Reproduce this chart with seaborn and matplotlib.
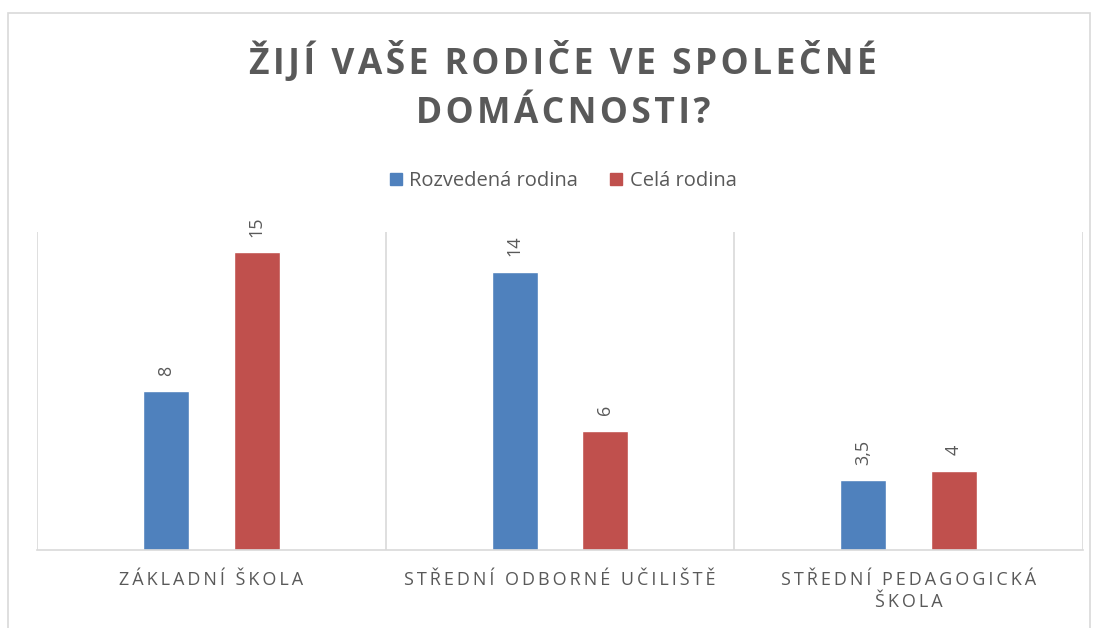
import pandas as pd
import matplotlib.pyplot as plt
import seaborn as sns
from matplotlib.patches import Rectangle

# data
skoly = ["ZÁKLADNÍ ŠKOLA", "STŘEDNÍ ODBORNÉ UČILIŠTĚ", "STŘEDNÍ PEDAGOGICKÁ\nŠKOLA"]
rozvedena = [8, 14, 3.5]
cela = [15, 6, 4]
serie = ["Rozvedená rodina", "Celá rodina"]
barvy = ["#4F81BD", "#C0504D"]

df = pd.DataFrame({
    "skola": skoly * 2,
    "hodnota": rozvedena + cela,
    "rodina": [serie[0]] * 3 + [serie[1]] * 3,
})

sns.set_style("white")
plt.rcParams["font.family"] = ["Open Sans", "DejaVu Sans"]
seda = "#595959"


def rozsirit(text, mezera="\u2009"):
    # letter spacing like the original
    return "\n".join(mezera.join(radek) for radek in text.split("\n"))


fig = plt.figure(figsize=(10.98, 6.28), dpi=100)
ax = fig.add_axes([37 / 1098, 1 - 550 / 628, (1083 - 37) / 1098, (550 - 232) / 628])

sns.barplot(data=df, x="skola", y="hodnota", hue="rodina", palette=barvy,
            width=0.52, gap=0.49, ax=ax, legend=False, saturation=1)

for kont in ax.containers:
    ax.bar_label(kont, fmt=lambda v: f"{v:g}".replace(".", ","), rotation=90,
                 padding=11, color=seda, fontsize=13)

ax.set_ylim(0, 16)
ax.set_xlim(-0.5, 2.5)
for x in [-0.5, 0.5, 1.5, 2.5]:
    ax.axvline(x, color="#D9D9D9", lw=1.2, zorder=0)
for s in ["top", "left", "right"]:
    ax.spines[s].set_visible(False)
ax.spines["bottom"].set_color("#D9D9D9")
ax.spines["bottom"].set_linewidth(1.2)
ax.set_yticks([])
ax.set_xlabel("")
ax.set_ylabel("")
ax.set_xticks(range(3))
ax.set_xticklabels([rozsirit(s) for s in skoly], color=seda, fontsize=13,
                   linespacing=1.3)
ax.tick_params(axis="x", length=0, pad=15)

titulek = rozsirit("ŽIJÍ VAŠE RODIČE VE SPOLEČNÉ\nDOMÁCNOSTI?", "\u200a")
fig.text(0.513, 1 - 87 / 628, titulek, ha="center", va="center", fontsize=25.5,
         fontweight="bold", color=seda, linespacing=1.45)

# legend
ruky = [Rectangle((0, 0), 1, 1, color=c) for c in barvy]
fig.legend(ruky, serie, loc="center", bbox_to_anchor=(0.513, 1 - 181 / 628),
           ncol=2, frameon=False, fontsize=14.5, labelcolor=seda,
           handlelength=0.6, handleheight=0.6, handletextpad=0.35,
           columnspacing=1.6)

# chart border
fig.add_artist(Rectangle((8 / 1098, -0.01), 1082 / 1098, 1 - 13 / 628 + 0.01,
                         transform=fig.transFigure, fill=False,
                         edgecolor="#D9D9D9", lw=1.2))

fig.savefig("out.png", dpi=100)
